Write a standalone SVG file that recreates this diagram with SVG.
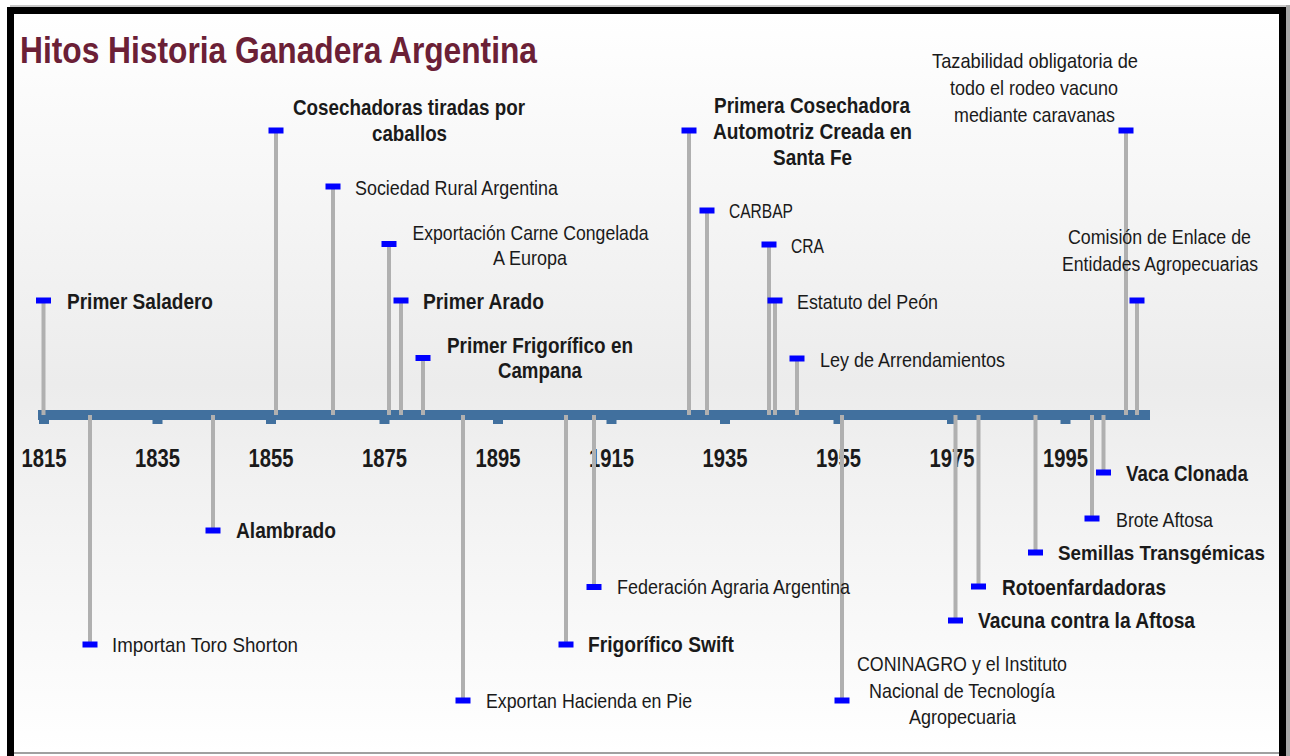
<svg xmlns="http://www.w3.org/2000/svg" width="1290" height="756" viewBox="0 0 1290 756">
<defs>
<linearGradient id="bg" x1="0" y1="0" x2="0" y2="1">
<stop offset="0" stop-color="#ffffff"/>
<stop offset="0.5" stop-color="#ececec"/>
<stop offset="1" stop-color="#ffffff"/>
</linearGradient>
<style>
.t{font-family:"Liberation Sans",Arial,sans-serif;font-size:21px;fill:#1a1a1a}
.b{font-weight:bold;font-size:22px}
.s{font-size:20px}
.sb{font-size:21px}
.m{text-anchor:middle}
.yr{font-family:"Liberation Sans",Arial,sans-serif;font-size:25px;font-weight:bold;fill:#1a1a1a;text-anchor:middle}
.mk{fill:#0000ff}
.st{stroke:#b0b0b0;stroke-width:4;fill:none}
.tk{fill:#41709e}
</style>
</defs>
<rect x="0" y="0" width="1290" height="756" fill="#ffffff"/>
<rect x="1286" y="5" width="4" height="751" fill="#a8a8a8"/>
<rect x="10" y="5" width="1276" height="2" fill="#c8c8c8"/>
<rect x="14" y="14" width="1265" height="739" fill="url(#bg)"/>
<rect x="7" y="7" width="1279" height="7" fill="#000"/>
<rect x="7" y="7" width="7" height="749" fill="#000"/>
<rect x="1279" y="7" width="7" height="749" fill="#000"/>
<rect x="14" y="752" width="1265" height="2" fill="#a0a0a0"/>

<g id="title">
<text x="20" y="63" textLength="517" lengthAdjust="spacingAndGlyphs" style="font-family:'Liberation Sans',Arial,sans-serif;font-size:37px;font-weight:bold;fill:#6b2036">Hitos Historia Ganadera Argentina</text>
</g>

<g id="axis">
<rect x="38" y="410" width="1112" height="10" class="tk"/>
<rect x="39" y="418" width="10" height="6" class="tk"/>
<rect x="152.5" y="418" width="10" height="6" class="tk"/>
<rect x="266" y="418" width="10" height="6" class="tk"/>
<rect x="379.5" y="418" width="10" height="6" class="tk"/>
<rect x="493" y="418" width="10" height="6" class="tk"/>
<rect x="606.5" y="418" width="10" height="6" class="tk"/>
<rect x="720" y="418" width="10" height="6" class="tk"/>
<rect x="833.5" y="418" width="10" height="6" class="tk"/>
<rect x="947" y="418" width="10" height="6" class="tk"/>
<rect x="1060.5" y="418" width="10" height="6" class="tk"/>
<text class="yr" x="44" y="467" textLength="45" lengthAdjust="spacingAndGlyphs">1815</text>
<text class="yr" x="157.5" y="467" textLength="45" lengthAdjust="spacingAndGlyphs">1835</text>
<text class="yr" x="271" y="467" textLength="45" lengthAdjust="spacingAndGlyphs">1855</text>
<text class="yr" x="384.5" y="467" textLength="45" lengthAdjust="spacingAndGlyphs">1875</text>
<text class="yr" x="498" y="467" textLength="45" lengthAdjust="spacingAndGlyphs">1895</text>
<text class="yr" x="611.5" y="467" textLength="45" lengthAdjust="spacingAndGlyphs">1915</text>
<text class="yr" x="725" y="467" textLength="45" lengthAdjust="spacingAndGlyphs">1935</text>
<text class="yr" x="838.5" y="467" textLength="45" lengthAdjust="spacingAndGlyphs">1955</text>
<text class="yr" x="952" y="467" textLength="45" lengthAdjust="spacingAndGlyphs">1975</text>
<text class="yr" x="1065.5" y="467" textLength="45" lengthAdjust="spacingAndGlyphs">1995</text>
</g>

<g id="connectors">
<line class="st" x1="43.5" y1="300" x2="43.5" y2="415"/>
<line class="st" x1="276" y1="130" x2="276" y2="415"/>
<line class="st" x1="333" y1="186" x2="333" y2="415"/>
<line class="st" x1="389" y1="244" x2="389" y2="415"/>
<line class="st" x1="401" y1="300" x2="401" y2="415"/>
<line class="st" x1="423" y1="358" x2="423" y2="415"/>
<line class="st" x1="689" y1="130" x2="689" y2="415"/>
<line class="st" x1="707" y1="210" x2="707" y2="415"/>
<line class="st" x1="769" y1="244" x2="769" y2="415"/>
<line class="st" x1="775" y1="300" x2="775" y2="415"/>
<line class="st" x1="797" y1="358" x2="797" y2="415"/>
<line class="st" x1="1126" y1="130" x2="1126" y2="415"/>
<line class="st" x1="1137" y1="300" x2="1137" y2="415"/>
<line class="st" x1="90" y1="415" x2="90" y2="644"/>
<line class="st" x1="213" y1="415" x2="213" y2="530"/>
<line class="st" x1="463" y1="415" x2="463" y2="700"/>
<line class="st" x1="566" y1="415" x2="566" y2="644"/>
<line class="st" x1="594" y1="415" x2="594" y2="587"/>
<line class="st" x1="842" y1="415" x2="842" y2="700"/>
<line class="st" x1="955.5" y1="415" x2="955.5" y2="620"/>
<line class="st" x1="978.5" y1="415" x2="978.5" y2="586"/>
<line class="st" x1="1035.5" y1="415" x2="1035.5" y2="552"/>
<line class="st" x1="1092" y1="415" x2="1092" y2="518"/>
<line class="st" x1="1103.5" y1="415" x2="1103.5" y2="472"/>
</g>

<g id="primer-saladero"><rect class="mk" x="36" y="297.5" width="15" height="6"/><text class="t b" x="67" y="309" textLength="146" lengthAdjust="spacingAndGlyphs">Primer Saladero</text></g>
<g id="cosechadoras-caballos"><rect class="mk" x="268.5" y="127.5" width="15" height="6"/><text class="t b m" x="409" y="115" textLength="232" lengthAdjust="spacingAndGlyphs">Cosechadoras tiradas por</text><text class="t b m" x="409.5" y="141" textLength="75" lengthAdjust="spacingAndGlyphs">caballos</text></g>
<g id="sociedad-rural"><rect class="mk" x="325.5" y="183.5" width="15" height="6"/><text class="t" x="355" y="195" textLength="203" lengthAdjust="spacingAndGlyphs">Sociedad Rural Argentina</text></g>
<g id="exportacion-carne"><rect class="mk" x="381.5" y="241" width="15" height="6"/><text class="t m" x="530.5" y="240" textLength="236" lengthAdjust="spacingAndGlyphs">Exportación Carne Congelada</text><text class="t m" x="530" y="265" textLength="74" lengthAdjust="spacingAndGlyphs">A Europa</text></g>
<g id="primer-arado"><rect class="mk" x="393.5" y="297.5" width="15" height="6"/><text class="t b" x="423" y="309" textLength="121" lengthAdjust="spacingAndGlyphs">Primer Arado</text></g>
<g id="primer-frigorifico"><rect class="mk" x="415.5" y="355" width="15" height="6"/><text class="t b m" x="540" y="353" textLength="186" lengthAdjust="spacingAndGlyphs">Primer Frigorífico en</text><text class="t b m" x="540" y="378" textLength="84" lengthAdjust="spacingAndGlyphs">Campana</text></g>
<g id="primera-cosechadora"><rect class="mk" x="681.5" y="127.5" width="15" height="6"/><text class="t b m" x="812" y="112.5" textLength="196" lengthAdjust="spacingAndGlyphs">Primera Cosechadora</text><text class="t b m" x="812.5" y="138.5" textLength="199" lengthAdjust="spacingAndGlyphs">Automotriz Creada en</text><text class="t b m" x="812.5" y="164.5" textLength="79" lengthAdjust="spacingAndGlyphs">Santa Fe</text></g>
<g id="carbap"><rect class="mk" x="699.5" y="207.5" width="15" height="6"/><text class="t" x="729" y="218" textLength="64" lengthAdjust="spacingAndGlyphs">CARBAP</text></g>
<g id="cra"><rect class="mk" x="761.5" y="241.5" width="15" height="6"/><text class="t" x="791" y="253" textLength="33" lengthAdjust="spacingAndGlyphs">CRA</text></g>
<g id="estatuto-peon"><rect class="mk" x="767.5" y="297.5" width="15" height="6"/><text class="t" x="797" y="309" textLength="141" lengthAdjust="spacingAndGlyphs">Estatuto del Peón</text></g>
<g id="ley-arrendamientos"><rect class="mk" x="789.5" y="355.5" width="15" height="6"/><text class="t" x="820" y="367" textLength="185" lengthAdjust="spacingAndGlyphs">Ley de Arrendamientos</text></g>
<g id="tazabilidad"><rect class="mk" x="1118.5" y="127.5" width="15" height="6"/><text class="t m" x="1035" y="68" textLength="206" lengthAdjust="spacingAndGlyphs">Tazabilidad obligatoria de</text><text class="t m" x="1034" y="95" textLength="168" lengthAdjust="spacingAndGlyphs">todo el rodeo vacuno</text><text class="t m" x="1034.5" y="122" textLength="161" lengthAdjust="spacingAndGlyphs">mediante caravanas</text></g>
<g id="comision-enlace"><rect class="mk" x="1129.5" y="297.5" width="15" height="6"/><text class="t s m" x="1159.5" y="244" textLength="183" lengthAdjust="spacingAndGlyphs">Comisión de Enlace de</text><text class="t s m" x="1160" y="270.5" textLength="196" lengthAdjust="spacingAndGlyphs">Entidades Agropecuarias</text></g>

<g id="toro-shorton"><rect class="mk" x="82.5" y="641.5" width="15" height="6"/><text class="t" x="112" y="652" textLength="186" lengthAdjust="spacingAndGlyphs">Importan Toro Shorton</text></g>
<g id="alambrado"><rect class="mk" x="205.5" y="527.5" width="15" height="6"/><text class="t b" x="236" y="538" textLength="100" lengthAdjust="spacingAndGlyphs">Alambrado</text></g>
<g id="hacienda-pie"><rect class="mk" x="455.5" y="697.5" width="15" height="6"/><text class="t" x="486" y="708" textLength="206" lengthAdjust="spacingAndGlyphs">Exportan Hacienda en Pie</text></g>
<g id="frigorifico-swift"><rect class="mk" x="558.5" y="641.5" width="15" height="6"/><text class="t b" x="588" y="652" textLength="146" lengthAdjust="spacingAndGlyphs">Frigorífico Swift</text></g>
<g id="federacion-agraria"><rect class="mk" x="586.5" y="584" width="15" height="6"/><text class="t" x="617" y="594" textLength="233" lengthAdjust="spacingAndGlyphs">Federación Agraria Argentina</text></g>
<g id="coninagro-inta"><rect class="mk" x="834.5" y="697.5" width="15" height="6"/><text class="t m" x="962" y="671" textLength="210" lengthAdjust="spacingAndGlyphs">CONINAGRO y el Instituto</text><text class="t m" x="962" y="698" textLength="186" lengthAdjust="spacingAndGlyphs">Nacional de Tecnología</text><text class="t m" x="962.5" y="724" textLength="107" lengthAdjust="spacingAndGlyphs">Agropecuaria</text></g>
<g id="vacuna-aftosa"><rect class="mk" x="948" y="617.5" width="15" height="6"/><text class="t b" x="978" y="628" textLength="217" lengthAdjust="spacingAndGlyphs">Vacuna contra la Aftosa</text></g>
<g id="rotoenfardadoras"><rect class="mk" x="971" y="583.5" width="15" height="6"/><text class="t b" x="1002" y="595" textLength="164" lengthAdjust="spacingAndGlyphs">Rotoenfardadoras</text></g>
<g id="semillas-transgenicas"><rect class="mk" x="1028" y="549.5" width="15" height="6"/><text class="t b sb" x="1058" y="560" textLength="207" lengthAdjust="spacingAndGlyphs">Semillas Transgémicas</text></g>
<g id="brote-aftosa"><rect class="mk" x="1084.5" y="515.5" width="15" height="6"/><text class="t" x="1116" y="527" textLength="97" lengthAdjust="spacingAndGlyphs">Brote Aftosa</text></g>
<g id="vaca-clonada"><rect class="mk" x="1096" y="469.5" width="15" height="6"/><text class="t b" x="1126" y="481" textLength="122" lengthAdjust="spacingAndGlyphs">Vaca Clonada</text></g>
</svg>
